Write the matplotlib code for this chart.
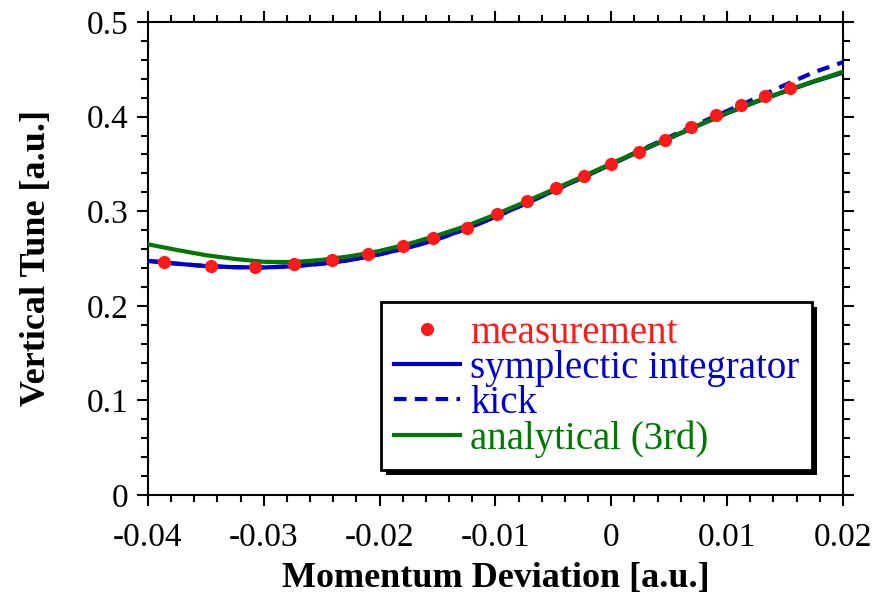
import matplotlib
matplotlib.use('Agg')
import matplotlib.pyplot as plt
from matplotlib.patches import Rectangle
from matplotlib.ticker import MultipleLocator, FuncFormatter
from matplotlib.transforms import IdentityTransform

plt.rcParams['font.family'] = ['Liberation Serif', 'DejaVu Serif']

# measured points
meas_x = [-0.0386, -0.0346, -0.0308, -0.0274, -0.0241, -0.0210, -0.0180, -0.0154,
          -0.0125, -0.0099, -0.0073, -0.0048, -0.0024, 0.0000, 0.0024, 0.0046,
          0.0069, 0.0090, 0.0112, 0.0133, 0.0154]
meas_y = [0.246, 0.2424, 0.241, 0.2439, 0.2481, 0.2551, 0.2629, 0.2714,
          0.2822, 0.2970, 0.3108, 0.3245, 0.3372, 0.3496, 0.3623, 0.3753,
          0.3890, 0.4014, 0.4119, 0.4215, 0.4306]

# simulated / analytical curves
curve_x = [-0.04, -0.0375, -0.035, -0.0325, -0.03, -0.0275, -0.025, -0.0225, -0.02,
           -0.0175, -0.015, -0.0125, -0.01, -0.0075, -0.005, -0.0025, 0.0,
           0.0025, 0.005, 0.0075, 0.01, 0.0125, 0.015, 0.0175, 0.02]
symplectic = [0.2475, 0.2445, 0.2420, 0.2408, 0.2405, 0.2418, 0.2445, 0.2485, 0.2545,
              0.2615, 0.2705, 0.2815, 0.2940, 0.3075, 0.3215, 0.3355, 0.3495,
              0.3635, 0.3770, 0.3905, 0.4035, 0.4155, 0.4265, 0.4370, 0.4465]
kick = [0.2475, 0.2445, 0.2420, 0.2408, 0.2405, 0.2418, 0.2445, 0.2485, 0.2545,
        0.2615, 0.2705, 0.2815, 0.2940, 0.3075, 0.3215, 0.3357, 0.3500,
        0.3645, 0.3785, 0.3925, 0.4060, 0.4195, 0.4335, 0.4470, 0.4575]
analytical = [0.2650, 0.2590, 0.2535, 0.2495, 0.2465, 0.2462, 0.2485, 0.2525, 0.2580,
              0.2655, 0.2745, 0.2845, 0.2965, 0.3095, 0.3230, 0.3365, 0.3505,
              0.3640, 0.3775, 0.3910, 0.4040, 0.4160, 0.4270, 0.4375, 0.4475]

fig = plt.figure(figsize=(8.87, 5.95), dpi=100)
ax = fig.add_axes([148 / 887, 1 - 495 / 595, 695 / 887, 473 / 595])

ax.plot(curve_x, symplectic, color='#0000cc', lw=3, label='symplectic integrator', zorder=2)
ax.plot(curve_x, kick, color='#0000cc', lw=3, ls=(0, (3, 2)), label='kick', zorder=3)
ax.plot(curve_x, analytical, color='#007700', lw=3, label='analytical (3rd)', zorder=4)
ax.plot(meas_x, meas_y, 'o', color='#ff1a1a', ms=9.5, mec='none', label='measurement', zorder=5)

ax.set_xlim(-0.04, 0.02)
ax.set_ylim(0, 0.5)
ax.xaxis.set_major_locator(MultipleLocator(0.01))
ax.xaxis.set_minor_locator(MultipleLocator(0.002))
ax.yaxis.set_major_locator(MultipleLocator(0.1))
ax.yaxis.set_minor_locator(MultipleLocator(0.02))

def fmt(v, pos):
    s = '%g' % round(v, 4)
    return '0' if s in ('0', '-0') else s

ax.xaxis.set_major_formatter(FuncFormatter(fmt))
ax.yaxis.set_major_formatter(FuncFormatter(fmt))

for sp in ax.spines.values():
    sp.set_linewidth(1.5)
ax.tick_params(which='both', direction='out', top=True, right=True, width=1.5,
               labelsize=24)
ax.tick_params(axis='x', pad=12)
ax.tick_params(axis='y', pad=6)
ax.tick_params(which='major', length=8)
ax.tick_params(which='minor', length=5)

ax.set_xlabel('Momentum Deviation [a.u.]', fontsize=26, fontweight='bold', labelpad=6)
ax.set_ylabel('Vertical Tune [a.u.]', fontsize=26, fontweight='bold', labelpad=24)

h, l = ax.get_legend_handles_labels()
order = [3, 0, 1, 2]
leg = ax.legend([h[i] for i in order], [l[i] for i in order],
                loc='lower right', bbox_to_anchor=(0.955, 0.052), fontsize=28,
                frameon=True, fancybox=False, edgecolor='black', framealpha=1,
                handlelength=1.7, handletextpad=0.25, labelspacing=-0.05,
                borderpad=0.33, borderaxespad=0)
leg.get_frame().set_linewidth(2)
colors = ['#ff1a1a', '#0000cc', '#0000cc', '#007700']
for t, c in zip(leg.get_texts(), colors):
    t.set_color(c)

fig.canvas.draw()
bb = leg.get_window_extent()
shadow = Rectangle((bb.x0 + 5, bb.y0 - 5), bb.width, bb.height, transform=IdentityTransform(),
                   facecolor='black', edgecolor='none', zorder=4.9)
ax.add_artist(shadow)
leg.set_zorder(6)

fig.savefig('out.png', dpi=100)
